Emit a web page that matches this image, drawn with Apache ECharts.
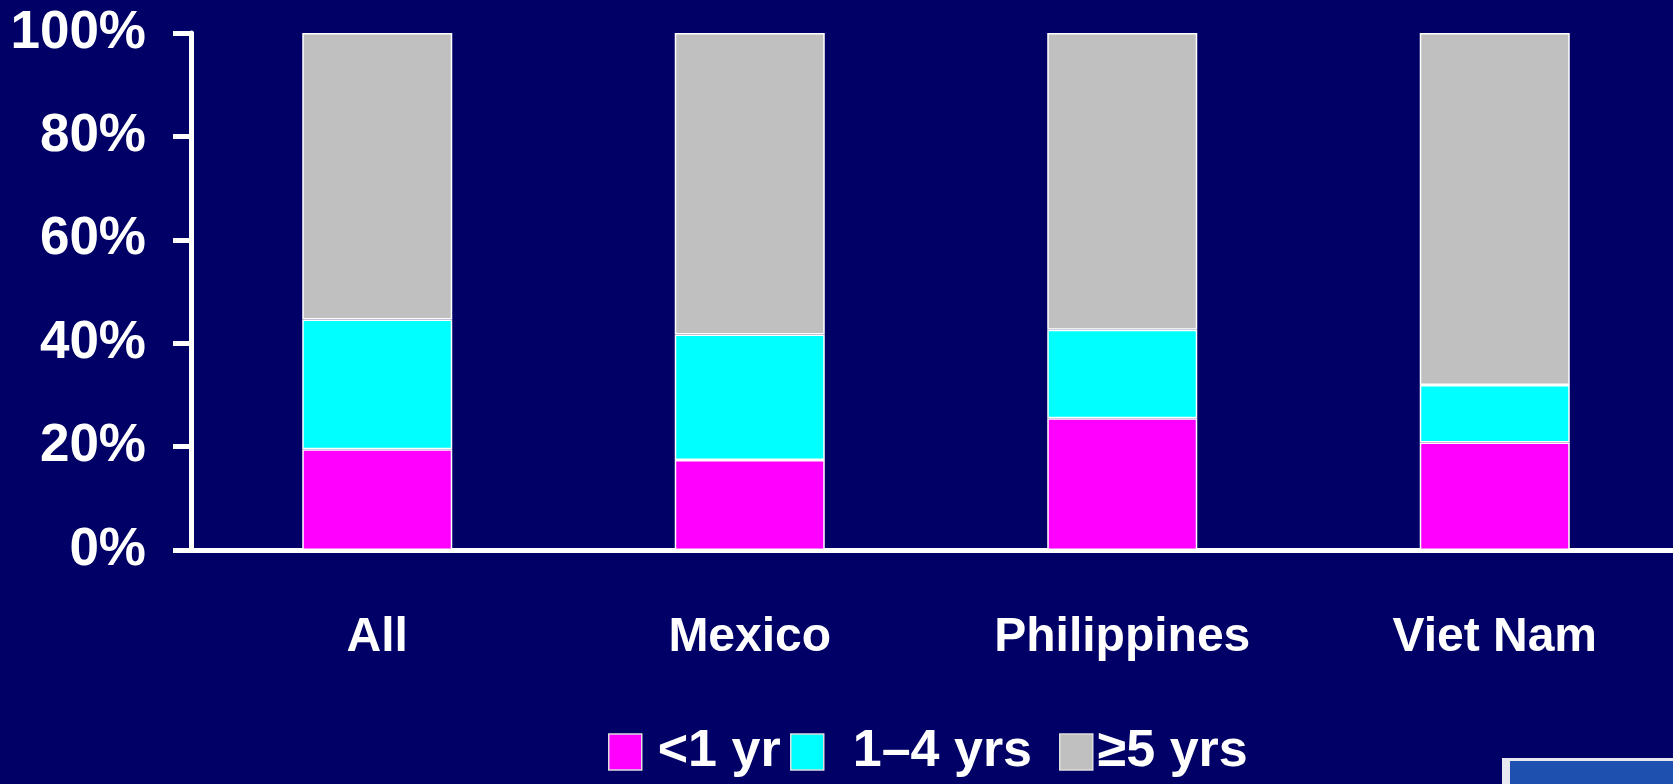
<!DOCTYPE html>
<html>
<head>
<meta charset="utf-8">
<script src="https://cdn.jsdelivr.net/npm/echarts@6/dist/echarts.min.js"></script>
<style>
html,body{margin:0;padding:0;background:#000066;}
#chart{width:1673px;height:784px;}
</style>
</head>
<body>
<div id="chart"></div>
<script>
const categories = ['All', 'Mexico', 'Philippines', 'Viet Nam'];
const seriesNames = ['<1 yr', '1\u20134 yrs', '\u22655 yrs'];
const underOne = [19.5, 17.4, 25.5, 20.8];
const oneToFour = [25.1, 24.3, 17.1, 11.1];
const fivePlus = [55.4, 58.3, 57.4, 68.1];
const yTicks = [0, 20, 40, 60, 80, 100];

const colors = ['#FF00FF', '#00FFFF', '#C0C0C0'];
const font = '"Liberation Sans", Arial, sans-serif';

const chart = echarts.init(document.getElementById('chart'));
const mk = (name, data, color) => ({
  name, type: 'bar', stack: 'total', data,
  barWidth: 150,
  itemStyle: { color, borderColor: '#FFFFFF', borderWidth: 1.5 },
  emphasis: { disabled: true }
});

const legendLeft = [603, 785, 1054];
const legendPad = [11, 24, 0];
const legends = seriesNames.map((n, i) => ({
  left: legendLeft[i], top: 721,
  itemWidth: 33, itemHeight: 36,
  icon: 'rect',
  selectedMode: false,
  itemStyle: { borderColor: '#DDDDDD', borderWidth: 1.5 },
  textStyle: { color: '#FFFFFF', fontSize: 52, fontWeight: 'bold', fontFamily: font, padding: [0, 0, 0, legendPad[i]] },
  data: [n]
}));

chart.setOption({
  backgroundColor: '#000066',
  animation: false,
  textStyle: { fontFamily: font },
  grid: { left: 191, top: 33, width: 1490, height: 517, containLabel: false, outerBoundsMode: 'none' },
  xAxis: {
    type: 'category',
    data: categories,
    axisLine: { lineStyle: { color: '#FFFFFF', width: 5 } },
    axisTick: { show: false },
    axisLabel: { color: '#FFFFFF', fontSize: 48, fontWeight: 'bold', fontFamily: font, margin: 64 }
  },
  yAxis: {
    type: 'value',
    min: 0, max: 100, interval: 20,
    axisLine: { show: true, lineStyle: { color: '#FFFFFF', width: 5 } },
    axisTick: { show: true, length: 18, lineStyle: { color: '#FFFFFF', width: 5 } },
    splitLine: { show: false },
    axisLabel: {
      color: '#FFFFFF', fontSize: 53, fontWeight: 'bold', fontFamily: font, margin: 45,
      formatter: v => (yTicks.includes(v) ? v + '%' : '')
    }
  },
  legend: legends,
  graphic: [
    { type: 'rect', shape: { x: 1502, y: 758, width: 200, height: 40 }, style: { fill: '#E8E8F0' }, silent: true },
    { type: 'rect', shape: { x: 1510, y: 761, width: 200, height: 40 }, style: { fill: '#1E50B0' }, silent: true }
  ],
  series: [
    mk(seriesNames[0], underOne, colors[0]),
    mk(seriesNames[1], oneToFour, colors[1]),
    mk(seriesNames[2], fivePlus, colors[2])
  ]
});
</script>
</body>
</html>
